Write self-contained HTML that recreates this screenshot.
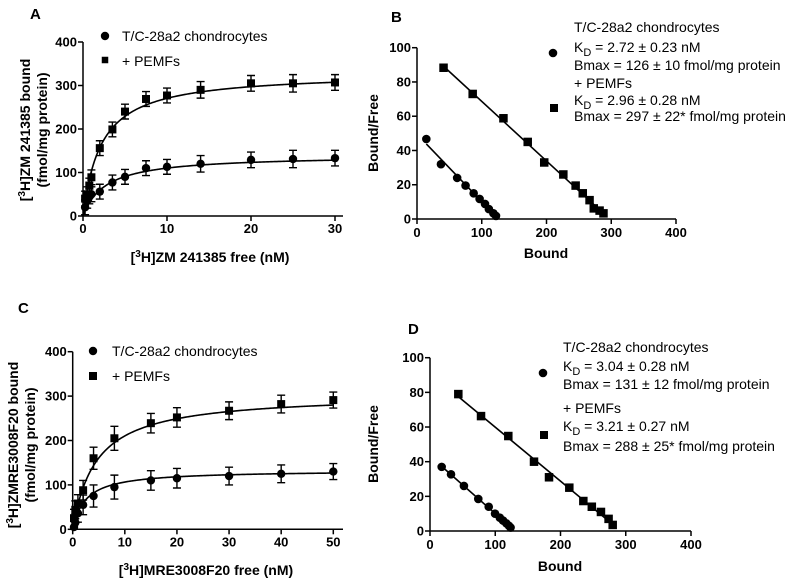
<!DOCTYPE html>
<html><head><meta charset="utf-8">
<style>
body{margin:0;background:#fff;}
svg{display:block;font-family:"Liberation Sans",Arial,sans-serif;}
.tk{font-size:13px;font-weight:bold;}
.ti{font-size:14px;font-weight:bold;}
.lg{font-size:14px;}
.pl{font-size:15px;font-weight:bold;}
</style></head>
<body>
<svg id="fig" width="790" height="583" viewBox="0 0 790 583"></svg>
<script>
// Panel A data
const aConc = [0.25,0.5,0.75,1,2,3.5,5,7.5,10,14,20,25,30];
const aCtrl = [20,35,45,50,56,77,90,110,113,120,129,131,133];
const aPemf = [40,50,70,89,156,199,240,269,277,290,305,305,307];
const aErr = [17,17,17,17,17,17,17,17,17,19,18,20,18];
const aFitCtrl = [140,2.72];
const aFitPemf = [330,2.2];
// Panel B data
const bCtrlX = [14.4,37,62,75,87.5,96.7,105,111,118,122];
const bCtrlY = [46.7,32,24,19.5,15,11.7,8.8,5.8,3.3,1.8];
const bPemfX = [41,86,133.5,171,196.5,226,245,256,266.5,273,282,288];
const bPemfY = [88.3,73,58.8,45,33,26,19.5,15,11,6.2,4.9,3.3];
// Panel C data
const cConc = [0.25,0.5,1,2,4,8,15,20,30,40,50];
const cCtrl = [5,15,36,55,75,95,110,115,120,125,130];
const cPemf = [25,44,58,88,160,205,239,252,267,282,291];
const cErr = [20,20,20,22,25,27,22,22,20,20,18];
const cFitCtrl = [133,2.5];
const cFitPemf = [305,4.5];
// Panel D data
const dCtrlX = [17.9,32.2,52,74,90,99.7,107,112,117,121,123.5];
const dCtrlY = [37,32.7,26,18.5,14,10,7.7,6,4.4,3,2];
const dPemfX = [43.4,78.2,120,159.4,182.4,213.5,235,248,262,273.7,280];
const dPemfY = [79,66.3,54.8,40,31,25,17.3,14,11,7,3.5];
const satXTicksA = [0,10,20,30];
const satXTicksC = [0,10,20,30,40,50];
const satYTicks = [0,100,200,300,400];
const scXTicks = [0,100,200,300,400];
const scYTicks = [0,20,40,60,80,100];

const NS="http://www.w3.org/2000/svg";
const svg=document.getElementById('fig');
function mk(tag,attrs,parent,text){
  const e=document.createElementNS(NS,tag);
  for(const k in attrs)e.setAttribute(k,attrs[k]);
  if(text!==undefined)e.textContent=text;
  (parent||svg).appendChild(e);return e;
}
function circ(g,x,y,r){const c=mk('circle',{cx:x,cy:y,r:r,fill:'#000'},g);return c;}
function sq(g,x,y,s){const c=mk('rect',{x:x-s/2,y:y-s/2,width:s,height:s,fill:'#000'},g);return c;}

function axes(g,x0,y0,x1,y1,sx,sy,xt,yt,xAxisEnd,tickY){
  mk('line',{x1:x0,y1:y0,x2:x0,y2:y1,stroke:'#000','stroke-width':1.5},g);
  mk('line',{x1:x0,y1:y0,x2:xAxisEnd,y2:y0,stroke:'#000','stroke-width':1.5},g);
  xt.forEach(v=>{const X=sx(v);mk('line',{x1:X,y1:y0,x2:X,y2:y0+5,stroke:'#000','stroke-width':1.5},g);
    const t=mk('text',{x:X,y:tickY,'text-anchor':'middle',class:'tk'},g,v);
    });
  yt.forEach(v=>{const Y=sy(v);mk('line',{x1:x0-5,y1:Y,x2:x0,y2:Y,stroke:'#000','stroke-width':1.5},g);
    const t=mk('text',{x:x0-6,y:Y+4.5,'text-anchor':'end',class:'tk'},g,v);
    });
}

function satPanel(name,conc,ctrl,pemf,err,fc,fp,x0,y0,xMaxV,xMaxPx,yTopPx,xt,xEnd){
  const g=mk('g',{});
  const sx=v=>x0+v*(xMaxPx-x0)/xMaxV, sy=v=>y0-v*(y0-yTopPx)/400;
  axes(g,x0,y0,xMaxPx,yTopPx,sx,sy,xt,satYTicks,xEnd,y0+17);
  [[fc,'fit-curve-control'],[fp,'fit-curve-pemf']].forEach(([f,n])=>{
    let d='';for(let i=0;i<=200;i++){const v=xMaxV*i/200;d+=(i?'L':'M')+sx(v).toFixed(2)+','+sy(f[0]*v/(f[1]+v)).toFixed(2);}
    const p=mk('path',{d:d,fill:'none',stroke:'#000','stroke-width':1.6},g);});
  conc.forEach((c,i)=>{
    [[ctrl[i],0],[pemf[i],1]].forEach(([v,k])=>{
      const X=sx(c),Yt=sy(v+err[i]),Yb=sy(Math.max(0,v-err[i]));
      const e=mk('path',{d:`M${X},${Yt}V${Yb}M${X-4},${Yt}H${X+4}M${X-4},${Yb}H${X+4}`,stroke:'#000','stroke-width':1.4,fill:'none'},g);
      
      if(k)sq(g,X,sy(v),8);else circ(g,X,sy(v),4.2);
    });
  });
  return g;
}
function fitLine(xs,ys){const n=xs.length;let mx=0,my=0;xs.forEach((x,i)=>{mx+=x/n;my+=ys[i]/n;});
  let sxy=0,sxx=0;xs.forEach((x,i)=>{sxy+=(x-mx)*(ys[i]-my);sxx+=(x-mx)*(x-mx);});const b=sxy/sxx;return [b,my-b*mx];}
function scPanel(name,cx,cy,px,py,x0,y0,x400,y100){
  const g=mk('g',{});
  const sx=v=>x0+v*(x400-x0)/400, sy=v=>y0-v*(y0-y100)/100;
  axes(g,x0,y0,x400,y100,sx,sy,scXTicks,scYTicks,x400,y0+18);
  [[cx,cy,0],[px,py,1]].forEach(([xs,ys,k])=>{
    const [b,a]=fitLine(xs,ys);const xa=xs[0],xb=xs[xs.length-1];
    const l=mk('line',{x1:sx(xa),y1:sy(a+b*xa),x2:sx(xb),y2:sy(a+b*xb),stroke:'#000','stroke-width':1.6},g);
    
    xs.forEach((x,i)=>{if(k)sq(g,sx(x),sy(ys[i]),8.5);else circ(g,sx(x),sy(ys[i]),4.3);});
  });
  return g;
}
function txt(x,y,s,cls,name,extra){const t=mk('text',Object.assign({x:x,y:y,class:cls},extra||{}),svg);t.innerHTML=s;return t;}

// Panel A
satPanel('panel-a-saturation-chart',aConc,aCtrl,aPemf,aErr,aFitCtrl,aFitPemf,83,216,30,335,42,satXTicksA,343);
txt(30,19,'A','pl','panel-label-a');
circ(svg,105,36,4.2);txt(122,41,'T/C-28a2 chondrocytes','lg','legend-entry-control');
sq(svg,105,60,6.5);txt(122,66,'+ PEMFs','lg','legend-entry-pemf');
txt(210,262,'[<tspan dy="-5" font-size="10">3</tspan><tspan dy="5">H]ZM 241385 free (nM)</tspan>','ti','x-axis-title-a',{'text-anchor':'middle'});
txt(0,0,'[<tspan dy="-5" font-size="10">3</tspan><tspan dy="5">H]ZM 241385 bound</tspan>','ti','y-axis-title-a',{'text-anchor':'middle',transform:'translate(30,130) rotate(-90)'});
txt(0,0,'(fmol/mg protein)','ti','y-axis-subtitle-a',{'text-anchor':'middle',transform:'translate(47,130) rotate(-90)'});

// Panel B
scPanel('panel-b-scatchard-chart',bCtrlX,bCtrlY,bPemfX,bPemfY,417,219,676,47.7);
txt(391,22,'B','pl','panel-label-b');
txt(0,0,'Bound/Free','ti','y-axis-title-b',{'text-anchor':'middle',transform:'translate(378,133) rotate(-90)'});
txt(546,258,'Bound','ti','x-axis-title-b',{'text-anchor':'middle'});
circ(svg,553,53,4.3);sq(svg,554,108,8);
txt(574,32,'T/C-28a2 chondrocytes','lg','legend-control-title-b');
txt(574,52,'K<tspan dy="4" font-size="11">D</tspan><tspan dy="-4"> = 2.72 ± 0.23 nM</tspan>','lg','legend-control-kd-b');
txt(574,70,'Bmax = 126 ± 10 fmol/mg protein','lg','legend-control-bmax-b');
txt(574,88,'+ PEMFs','lg','legend-pemf-title-b');
txt(574,105,'K<tspan dy="4" font-size="11">D</tspan><tspan dy="-4"> = 2.96 ± 0.28 nM</tspan>','lg','legend-pemf-kd-b');
txt(574,121,'Bmax = 297 ± 22* fmol/mg protein','lg','legend-pemf-bmax-b');

// Panel C
satPanel('panel-c-saturation-chart',cConc,cCtrl,cPemf,cErr,cFitCtrl,cFitPemf,72.7,529.3,50,333.3,351.7,satXTicksC,343);
txt(18,313,'C','pl','panel-label-c');
circ(svg,93,351,4.2);txt(112,356,'T/C-28a2 chondrocytes','lg','legend-entry-control-c');
sq(svg,93,376,8);txt(112,381,'+ PEMFs','lg','legend-entry-pemf-c');
txt(206,575,'[<tspan dy="-5" font-size="10">3</tspan><tspan dy="5">H]MRE3008F20 free (nM)</tspan>','ti','x-axis-title-c',{'text-anchor':'middle'});
txt(0,0,'[<tspan dy="-5" font-size="10">3</tspan><tspan dy="5">H]ZMRE3008F20 bound</tspan>','ti','y-axis-title-c',{'text-anchor':'middle',transform:'translate(18,445) rotate(-90)'});
txt(0,0,'(fmol/mg protein)','ti','y-axis-subtitle-c',{'text-anchor':'middle',transform:'translate(35,445) rotate(-90)'});

// Panel D
scPanel('panel-d-scatchard-chart',dCtrlX,dCtrlY,dPemfX,dPemfY,430,531,691,357.7);
txt(408,334,'D','pl','panel-label-d');
txt(0,0,'Bound/Free','ti','y-axis-title-d',{'text-anchor':'middle',transform:'translate(378,444) rotate(-90)'});
txt(560,571,'Bound','ti','x-axis-title-d',{'text-anchor':'middle'});
circ(svg,543,373,4.3);sq(svg,544,435,8);
txt(563,352,'T/C-28a2 chondrocytes','lg','legend-control-title-d');
txt(563,371,'K<tspan dy="4" font-size="11">D</tspan><tspan dy="-4"> = 3.04 ± 0.28 nM</tspan>','lg','legend-control-kd-d');
txt(563,389,'Bmax = 131 ± 12 fmol/mg protein','lg','legend-control-bmax-d');
txt(563,413,'+ PEMFs','lg','legend-pemf-title-d');
txt(563,431,'K<tspan dy="4" font-size="11">D</tspan><tspan dy="-4"> = 3.21 ± 0.27 nM</tspan>','lg','legend-pemf-kd-d');
txt(563,451,'Bmax = 288 ± 25* fmol/mg protein','lg','legend-pemf-bmax-d');
</script>
</body></html>
